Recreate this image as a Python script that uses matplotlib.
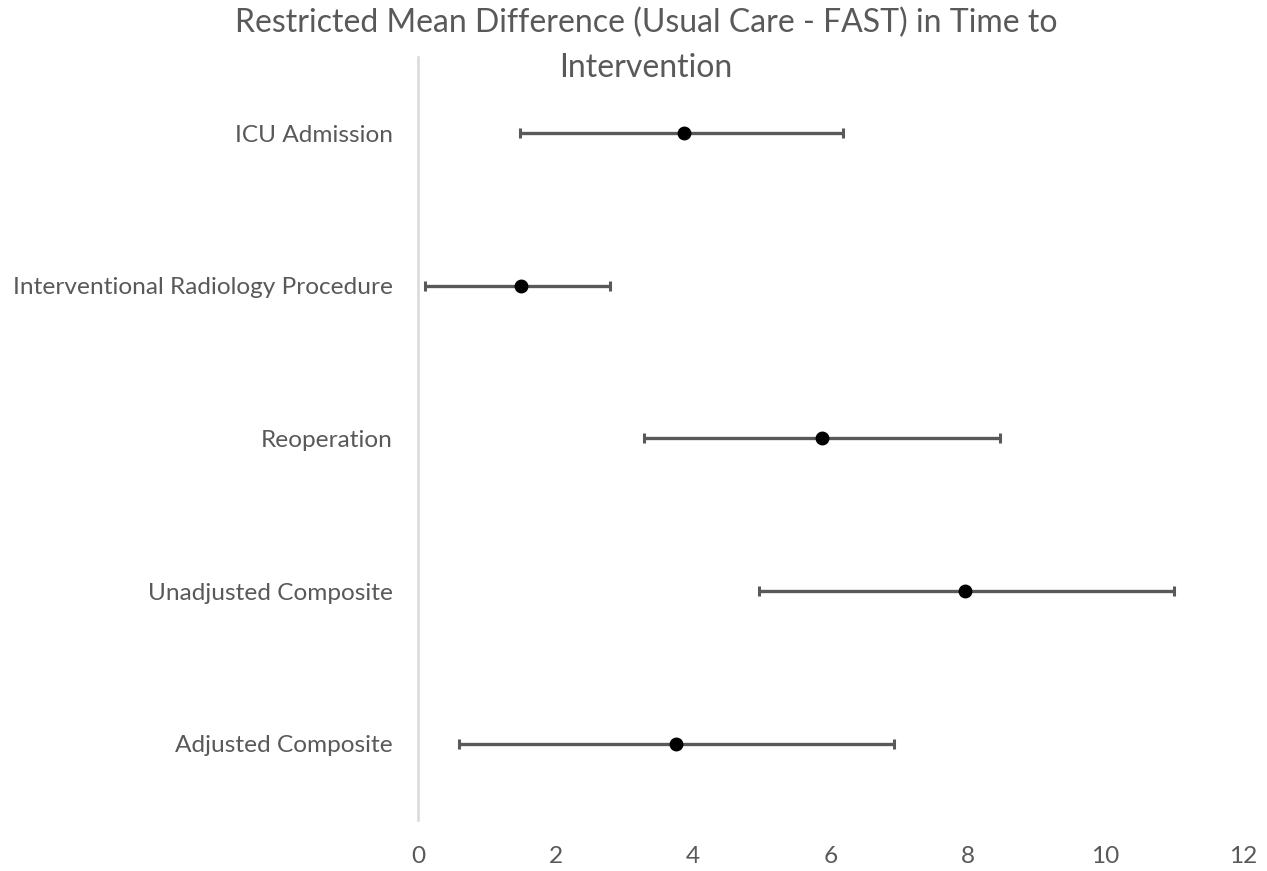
import matplotlib
matplotlib.use("Agg")
import matplotlib.pyplot as plt

# Valores
categorias = ["ICU Admission", "Interventional Radiology Procedure", "Reoperation",
              "Unadjusted Composite", "Adjusted Composite"]
diferencia = [3.87, 1.50, 5.88, 7.96, 3.75]
limite_inf = [1.48, 0.10, 3.29, 4.96, 0.60]
limite_sup = [6.18, 2.79, 8.47, 11.00, 6.92]
ticks_x = [0, 2, 4, 6, 8, 10, 12]

GRIS = "#595959"

plt.rcParams["font.family"] = ["Lato", "DejaVu Sans"]

fig = plt.figure(figsize=(12.67, 8.71), dpi=100)
ax = fig.add_axes([0.33, 0.0586, 0.651, 0.876])

y = list(range(len(categorias)))
err_inf = [d - l for d, l in zip(diferencia, limite_inf)]
err_sup = [u - d for d, u in zip(diferencia, limite_sup)]

ax.errorbar(diferencia, y, xerr=[err_inf, err_sup], fmt="o", color="black",
            markersize=9, ecolor=GRIS, elinewidth=2.4, capsize=3.5, capthick=2.2, zorder=3)

ax.set_xlim(0, 12)
ax.set_ylim(len(categorias) - 0.5, -0.5)
ax.set_xticks(ticks_x)
ax.set_xticklabels([str(t) for t in ticks_x])
ax.set_yticks(y)
ax.set_yticklabels(categorias)
ax.tick_params(axis="both", length=0, labelsize=17.6, colors=GRIS)
ax.tick_params(axis="x", pad=19)
ax.tick_params(axis="y", pad=18)

for lado in ["top", "right", "bottom"]:
    ax.spines[lado].set_visible(False)
ax.spines["left"].set_color("#d9d9d9")
ax.spines["left"].set_linewidth(1.8)

fig.text(646 / 1267, 1 - 23 / 871, "Restricted Mean Difference (Usual Care - FAST) in Time to",
         ha="center", va="center", fontsize=23, color=GRIS)
fig.text(646 / 1267, 1 - 68 / 871, "Intervention",
         ha="center", va="center", fontsize=23, color=GRIS)

fig.savefig("out.png", dpi=100)
